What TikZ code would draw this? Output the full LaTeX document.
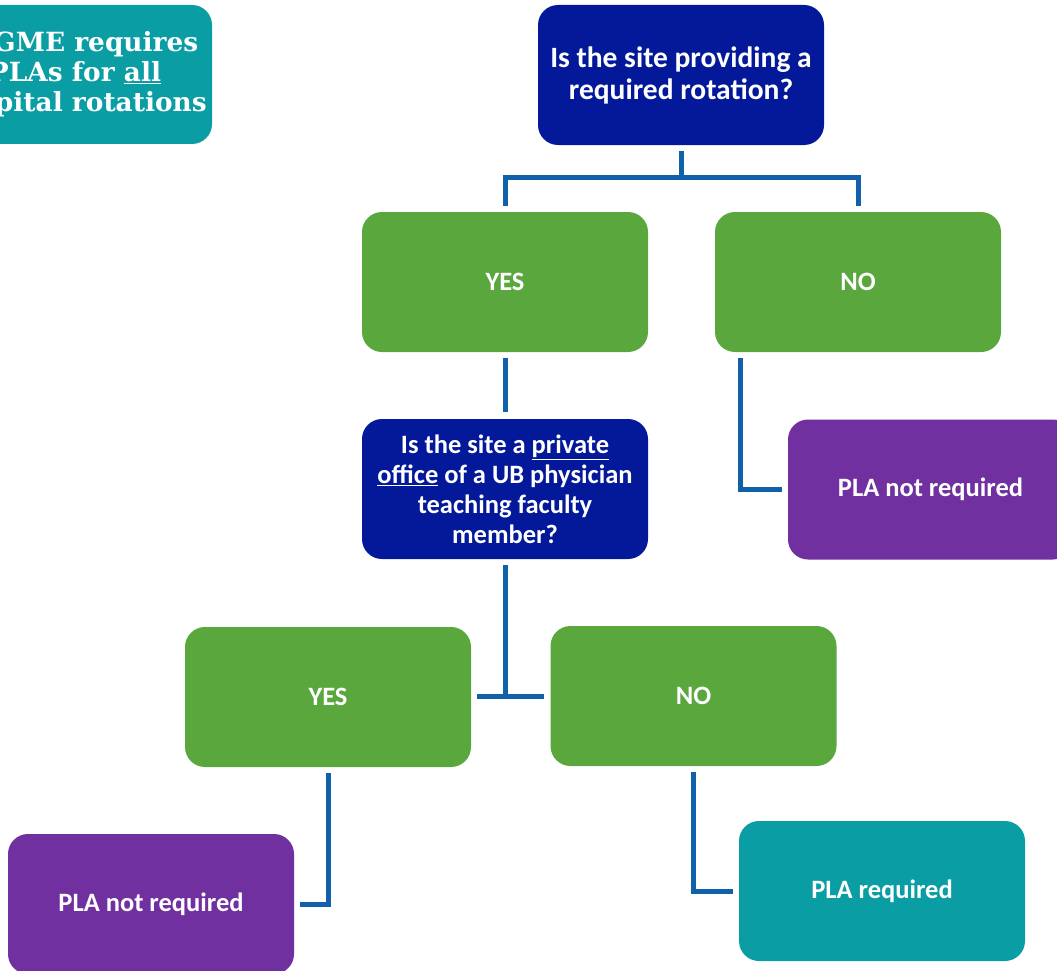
\documentclass[tikz,border=0pt]{standalone}
\usepackage{fontspec}
\setmainfont{Carlito}
\newfontfamily\headserif{DejaVu Serif}
\usetikzlibrary{calc}
\definecolor{navyq}{RGB}{4,25,153}
\definecolor{greenb}{RGB}{90,167,62}
\definecolor{purpleb}{RGB}{112,48,160}
\definecolor{tealb}{RGB}{10,157,164}
\definecolor{connblue}{RGB}{17,96,170}
\tikzset{
  box/.style={rounded corners=20pt, minimum width=286pt, minimum height=140pt,
    inner sep=0pt, text=white, align=center, font=\fontsize{26.5}{30}\selectfont\bfseries},
  navybox/.style={box, fill=navyq},
  greenbox/.style={box, fill=greenb},
  purplebox/.style={box, fill=purpleb},
  tealbox/.style={box, fill=tealb},
  conn/.style={draw=connblue, line width=5pt}
}
\begin{document}
\begin{tikzpicture}[x=1pt,y=-1pt]
\useasboundingbox (0,0) rectangle (1057,971);
\clip (0,0) rectangle (1057,971);
% boxes
\node[tealbox, minimum width=274pt, minimum height=139pt,
  font=\fontsize{26.4}{30}\selectfont\headserif\bfseries] (acgme) at (75,74.5)
  {ACGME requires\\PLAs for \underline{all}\\hospital rotations};
\node[navybox, font=\fontsize{29.5}{32}\selectfont\bfseries] (q1) at (681,75) {Is the site providing a\\required rotation?};
\node[greenbox] (yes1) at (505,282) {YES};
\node[greenbox] (no1) at (858,282) {NO};
\node[navybox] (q2) at (505,489) {Is the site a \underline{private}\\\underline{office} of a UB physician\\teaching faculty\\member?};
\node[purplebox, minimum width=285pt] (pla1) at (930.5,489.5) {PLA not required};
\node[greenbox] (yes2) at (328,697) {YES};
\node[greenbox] (no2) at (693.5,696) {NO};
\node[purplebox] (pla2) at (151,904) {PLA not required};
\node[tealbox] (pla3) at (882,891) {PLA required};
% connectors
\coordinate (j1) at ($(q1.south)+(0,33)$);
\draw[conn] ($(q1.south)+(0,6)$) -- (j1);
\draw[conn] ($(yes1.north)+(0,-6)$) |- ($(no1.north)+(0,-34)$) -- ($(no1.north)+(0,-6)$);
\draw[conn] ($(yes1.south)+(0,6)$) -- ($(q2.north)+(0,-7)$);
\draw[conn] ($(no1.south west)+(26,6)$) |- ($(pla1.west)+(-6,0)$);
\coordinate (j2) at ($(q2.south)+(0,138)$);
\draw[conn] ($(q2.south)+(0,6)$) -- (j2);
\draw[conn] ($(yes2.east)+(6,-1)$) -- ($(no2.west)+(-6,0)$);
\draw[conn] ($(yes2.south)+(0,6)$) |- ($(pla2.east)+(6,0)$);
\draw[conn] ($(no2.south)+(0,6)$) |- ($(pla3.west)+(-6,0)$);
\end{tikzpicture}
\end{document}
